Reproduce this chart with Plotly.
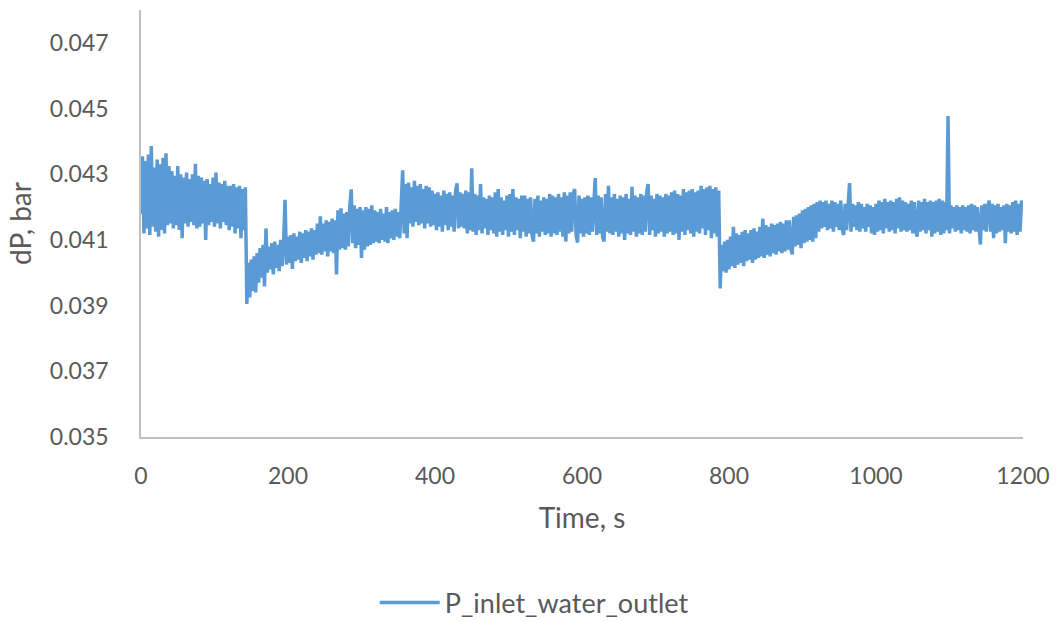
import plotly.graph_objects as go

# Time axis: one reading every 2 s from 0 to 1200 s
time_s = list(range(0, 1201, 2))

# Differential pressure P_inlet_water_outlet, bar
dp_bar = [
    # 0-38 s
    0.04180, 0.04355, 0.04120, 0.04340, 0.04135, 0.04360, 0.04115, 0.04386, 0.04140, 0.04320,
    0.04125, 0.04345, 0.04110, 0.04330, 0.04130, 0.04350, 0.04120, 0.04364, 0.04145, 0.04325,
    # 40-78 s
    0.04150, 0.04310, 0.04135, 0.04295, 0.04145, 0.04325, 0.04130, 0.04300, 0.04105, 0.04290,
    0.04150, 0.04305, 0.04140, 0.04285, 0.04155, 0.04300, 0.04145, 0.04332, 0.04135, 0.04295,
    # 80-118 s
    0.04140, 0.04290, 0.04150, 0.04280, 0.04100, 0.04285, 0.04145, 0.04270, 0.04155, 0.04290,
    0.04140, 0.04305, 0.04150, 0.04275, 0.04135, 0.04270, 0.04155, 0.04280, 0.04145, 0.04265,
    # 120-158 s
    0.04130, 0.04265, 0.04140, 0.04270, 0.04120, 0.04260, 0.04135, 0.04265, 0.04105, 0.04255,
    0.04130, 0.04260, 0.03905, 0.04030, 0.03925, 0.04040, 0.03945, 0.04050, 0.03940, 0.04060,
    # 160-198 s
    0.03970, 0.04075, 0.03985, 0.04085, 0.03958, 0.04135, 0.04000, 0.04080, 0.04010, 0.04090,
    0.03995, 0.04095, 0.04015, 0.04085, 0.04005, 0.04100, 0.04020, 0.04095, 0.04222, 0.04025,
    # 200-238 s
    0.04110, 0.04030, 0.04115, 0.04012, 0.04120, 0.04035, 0.04110, 0.04040, 0.04125, 0.04030,
    0.04120, 0.04045, 0.04130, 0.04035, 0.04125, 0.04050, 0.04135, 0.04040, 0.04130, 0.04055,
    # 240-278 s
    0.04150, 0.04060, 0.04172, 0.04055, 0.04150, 0.04065, 0.04160, 0.04050, 0.04155, 0.04065,
    0.04165, 0.04060, 0.04160, 0.03995, 0.04190, 0.04070, 0.04196, 0.04075, 0.04180, 0.04070,
    # 280-318 s
    0.04185, 0.04080, 0.04200, 0.04254, 0.04090, 0.04205, 0.04075, 0.04195, 0.04085, 0.04200,
    0.04045, 0.04190, 0.04070, 0.04200, 0.04080, 0.04195, 0.04085, 0.04205, 0.04090, 0.04190,
    # 320-358 s
    0.04095, 0.04185, 0.04090, 0.04195, 0.04100, 0.04180, 0.04095, 0.04200, 0.04090, 0.04185,
    0.04105, 0.04190, 0.04100, 0.04195, 0.04110, 0.04185, 0.04105, 0.04200, 0.04312, 0.04120,
    # 360-398 s
    0.04270, 0.04105, 0.04275, 0.04150, 0.04260, 0.04140, 0.04280, 0.04155, 0.04265, 0.04145,
    0.04270, 0.04150, 0.04255, 0.04135, 0.04265, 0.04150, 0.04260, 0.04140, 0.04250, 0.04145,
    # 400-438 s
    0.04240, 0.04130, 0.04245, 0.04140, 0.04235, 0.04125, 0.04250, 0.04145, 0.04240, 0.04130,
    0.04245, 0.04140, 0.04235, 0.04125, 0.04250, 0.04272, 0.04135, 0.04245, 0.04140, 0.04240,
    # 440-478 s
    0.04135, 0.04250, 0.04120, 0.04245, 0.04130, 0.04318, 0.04125, 0.04240, 0.04115, 0.04235,
    0.04130, 0.04270, 0.04120, 0.04230, 0.04135, 0.04225, 0.04115, 0.04235, 0.04130, 0.04230,
    # 480-518 s
    0.04120, 0.04245, 0.04110, 0.04255, 0.04125, 0.04230, 0.04115, 0.04220, 0.04130, 0.04235,
    0.04110, 0.04240, 0.04125, 0.04255, 0.04115, 0.04230, 0.04130, 0.04225, 0.04105, 0.04235,
    # 520-558 s
    0.04125, 0.04235, 0.04110, 0.04225, 0.04120, 0.04230, 0.04115, 0.04095, 0.04225, 0.04120,
    0.04235, 0.04110, 0.04220, 0.04125, 0.04230, 0.04115, 0.04225, 0.04120, 0.04240, 0.04110,
    # 560-598 s
    0.04235, 0.04120, 0.04230, 0.04115, 0.04240, 0.04125, 0.04230, 0.04110, 0.04245, 0.04095,
    0.04235, 0.04120, 0.04245, 0.04125, 0.04240, 0.04255, 0.04115, 0.04092, 0.04235, 0.04120,
    # 600-638 s
    0.04225, 0.04110, 0.04230, 0.04120, 0.04235, 0.04115, 0.04230, 0.04125, 0.04225, 0.04288,
    0.04115, 0.04235, 0.04120, 0.04230, 0.04110, 0.04095, 0.04240, 0.04125, 0.04265, 0.04120,
    # 640-678 s
    0.04230, 0.04115, 0.04240, 0.04125, 0.04225, 0.04110, 0.04235, 0.04120, 0.04230, 0.04100,
    0.04240, 0.04120, 0.04225, 0.04115, 0.04262, 0.04125, 0.04235, 0.04110, 0.04230, 0.04120,
    # 680-718 s
    0.04240, 0.04115, 0.04235, 0.04125, 0.04245, 0.04270, 0.04115, 0.04235, 0.04130, 0.04225,
    0.04110, 0.04240, 0.04120, 0.04235, 0.04125, 0.04230, 0.04110, 0.04240, 0.04120, 0.04235,
    # 720-758 s
    0.04125, 0.04245, 0.04115, 0.04250, 0.04120, 0.04240, 0.04100, 0.04235, 0.04125, 0.04255,
    0.04115, 0.04245, 0.04130, 0.04250, 0.04120, 0.04255, 0.04110, 0.04245, 0.04125, 0.04250,
    # 760-798 s
    0.04120, 0.04265, 0.04135, 0.04255, 0.04115, 0.04260, 0.04130, 0.04265, 0.04105, 0.04255,
    0.04120, 0.04260, 0.04110, 0.04250, 0.03952, 0.04085, 0.04005, 0.04095, 0.04000, 0.04100,
    # 800-838 s
    0.04010, 0.04110, 0.04020, 0.04140, 0.04015, 0.04120, 0.04025, 0.04115, 0.04030, 0.04125,
    0.04020, 0.04130, 0.04035, 0.04120, 0.04040, 0.04130, 0.04030, 0.04135, 0.04040, 0.04125,
    # 840-878 s
    0.04045, 0.04140, 0.04050, 0.04165, 0.04045, 0.04145, 0.04055, 0.04140, 0.04050, 0.04150,
    0.04060, 0.04145, 0.04055, 0.04150, 0.04065, 0.04155, 0.04060, 0.04150, 0.04065, 0.04160,
    # 880-918 s
    0.04070, 0.04160, 0.04075, 0.04056, 0.04170, 0.04080, 0.04175, 0.04085, 0.04180, 0.04075,
    0.04190, 0.04090, 0.04195, 0.04095, 0.04200, 0.04100, 0.04205, 0.04095, 0.04210, 0.04105,
    # 920-958 s
    0.04215, 0.04125, 0.04220, 0.04135, 0.04215, 0.04140, 0.04220, 0.04130, 0.04210, 0.04135,
    0.04220, 0.04125, 0.04215, 0.04140, 0.04210, 0.04130, 0.04220, 0.04135, 0.04115, 0.04210,
    # 960-998 s
    0.04130, 0.04215, 0.04273, 0.04125, 0.04210, 0.04140, 0.04205, 0.04130, 0.04215, 0.04125,
    0.04210, 0.04135, 0.04200, 0.04125, 0.04210, 0.04140, 0.04205, 0.04120, 0.04200, 0.04115,
    # 1000-1038 s
    0.04210, 0.04125, 0.04220, 0.04130, 0.04215, 0.04120, 0.04225, 0.04135, 0.04215, 0.04125,
    0.04220, 0.04130, 0.04215, 0.04120, 0.04225, 0.04135, 0.04230, 0.04125, 0.04220, 0.04130,
    # 1040-1078 s
    0.04215, 0.04125, 0.04210, 0.04130, 0.04220, 0.04120, 0.04215, 0.04130, 0.04110, 0.04220,
    0.04125, 0.04215, 0.04130, 0.04225, 0.04120, 0.04215, 0.04130, 0.04220, 0.04110, 0.04215,
    # 1080-1118 s
    0.04120, 0.04220, 0.04125, 0.04225, 0.04115, 0.04220, 0.04120, 0.04215, 0.04130, 0.04477,
    0.04120, 0.04205, 0.04135, 0.04200, 0.04125, 0.04205, 0.04130, 0.04200, 0.04120, 0.04205,
    # 1120-1158 s
    0.04130, 0.04200, 0.04125, 0.04205, 0.04120, 0.04210, 0.04130, 0.04205, 0.04125, 0.04200,
    0.04135, 0.04086, 0.04205, 0.04130, 0.04210, 0.04125, 0.04200, 0.04220, 0.04125, 0.04210,
    # 1160-1200 s
    0.04105, 0.04205, 0.04120, 0.04210, 0.04125, 0.04200, 0.04130, 0.04205, 0.04090, 0.04210,
    0.04125, 0.04205, 0.04120, 0.04215, 0.04125, 0.04220, 0.04115, 0.04210, 0.04125, 0.04220,
    0.04200,
]

y_ticks = [0.035, 0.037, 0.039, 0.041, 0.043, 0.045, 0.047]
x_ticks = [0, 200, 400, 600, 800, 1000, 1200]

FONT = "Lato"
TEXT_GREY = "#595959"
AXIS_GREY = "#bfbfbf"

fig = go.Figure()
fig.add_trace(go.Scatter(
    x=time_s,
    y=dp_bar,
    mode="lines",
    name="P_inlet_water_outlet",
    line=dict(color="#5b9bd5", width=3.5),
))

fig.update_layout(
    width=1058,
    height=621,
    margin=dict(l=141, r=35, t=10, b=184),
    paper_bgcolor="white",
    plot_bgcolor="white",
    font=dict(family=FONT, size=23, color=TEXT_GREY),
    showlegend=True,
    legend=dict(
        orientation="h",
        x=0.265,
        xanchor="left",
        yref="container",
        y=0.029,
        yanchor="middle",
        itemwidth=60,
        font=dict(family=FONT, size=27, color=TEXT_GREY),
        bgcolor="rgba(0,0,0,0)",
    ),
)

fig.update_xaxes(
    range=[0, 1200],
    tickvals=x_ticks,
    ticktext=[str(v) for v in x_ticks],
    showgrid=False,
    zeroline=False,
    showline=True,
    linecolor=AXIS_GREY,
    linewidth=1.5,
    ticks="",
    ticklabelstandoff=18,
    automargin=False,
    title=dict(text="Time, s", standoff=20, font=dict(family=FONT, size=28, color=TEXT_GREY)),
)

fig.update_yaxes(
    range=[0.035, 0.048],
    tickvals=y_ticks,
    ticktext=[f"{v:.3f}" for v in y_ticks],
    showgrid=False,
    zeroline=False,
    showline=True,
    linecolor=AXIS_GREY,
    linewidth=1.5,
    ticks="",
    ticklabelstandoff=26,
    automargin=False,
    title=dict(text="dP, bar", standoff=10, font=dict(family=FONT, size=28, color=TEXT_GREY)),
)

fig.write_html("out.html")
